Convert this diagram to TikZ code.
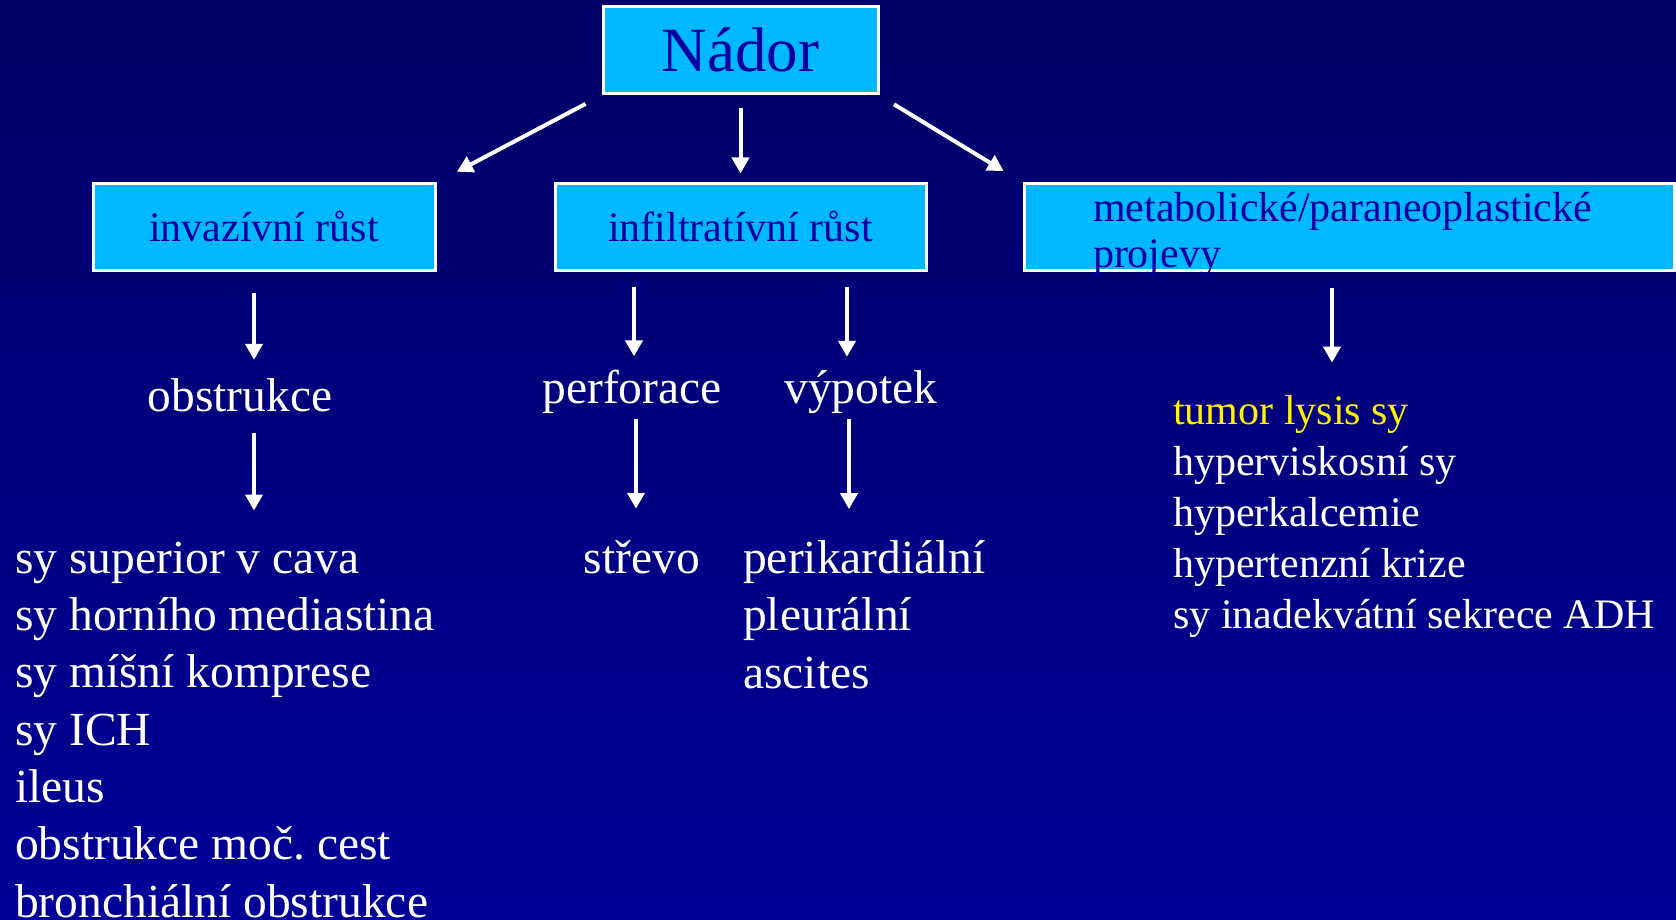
\documentclass[tikz,border=0pt]{standalone}
\usepackage{fontspec}
\setmainfont{Liberation Serif}
\usetikzlibrary{arrows.meta,calc}
\definecolor{bgtop}{RGB}{0,0,102}
\definecolor{bgbot}{RGB}{0,0,153}
\definecolor{boxfill}{RGB}{0,184,255}
\definecolor{boxtext}{RGB}{0,0,160}
\frenchspacing
\begin{document}
\begin{tikzpicture}[x=1pt,y=-1pt,
  box/.style={draw=white,line width=3pt,fill=boxfill,text=boxtext,inner sep=0pt,minimum height=86pt},
  topbox/.style={box,minimum width=275pt,minimum height=87pt,font=\fontsize{63}{70}\selectfont,text height=43pt,text depth=0pt},
  subbox/.style={box,font=\fontsize{42}{46}\selectfont,text height=30pt,text depth=0pt},
  item/.style={text=white,inner sep=0pt,font=\fontsize{47.5}{57.3}\selectfont},
  arr/.style={white,line width=4pt,-{Triangle[width=17pt,length=16pt]}}]
\useasboundingbox (0,0) rectangle (1676,920);
\shade[top color=bgtop,bottom color=bgbot] (0,0) rectangle (1676,920);
% boxes
\node[topbox] (nador) at (740.5,50.5) {Nádor};
\node[subbox,minimum width=342pt] (inv) at (264,227) {invazívní růst};
\node[subbox,minimum width=371pt] (inf) at (740.5,227) {infiltratívní růst};
\node[box,minimum width=650pt,text width=512pt,align=left,font=\fontsize{42}{46}\selectfont,text height=34pt,text depth=45pt] (meta) at (1349,227) {metabolické/paraneoplastické\\projevy};
% texts (multi-line nodes sit on their last baseline)
\node[item,anchor=base] (obs) at (240,411) {obstrukce};
\node[item,anchor=base] (perf) at (632,403) {perforace};
\node[item,anchor=base] (vyp) at (861,403) {výpotek};
\node[item,anchor=base] (strevo) at (642,573) {střevo};
\node[item,anchor=base west,align=left] (peri) at (743,688) {perikardiální\\pleurální\\ascites};
\node[item,anchor=base west,align=left] (list) at (15,917) {sy superior v cava\\sy horního mediastina\\sy míšní komprese\\sy ICH\\ileus\\obstrukce moč. cest\\bronchiální obstrukce};
\node[item,anchor=base west,align=left,font=\fontsize{42}{51}\selectfont] (syn) at (1173,628) {\textcolor{yellow}{tumor lysis sy}\\hyperviskosní sy\\hyperkalcemie\\hypertenzní krize\\sy inadekvátní sekrece ADH};
% arrows
\draw[arr,shorten <=18pt,shorten >=23pt] (nador.south west) -- (inv.north east);
\draw[arr,shorten <=13pt,shorten >=9pt] (nador.south) -- (inf.north);
\draw[arr,shorten <=17pt,shorten >=22pt] (nador.south east) -- (meta.north west);
\draw[arr,shorten <=21pt,shorten >=18pt] ($(inv.south)+(-10,0)$) -- ($(inv.south |- obs.north)+(-10,0)$);
\draw[arr,shorten <=21pt,shorten >=31pt] ($(obs.south)+(14,0)$) -- ($(obs.south |- list.north)+(14,0)$);
\draw[arr,shorten <=15pt,shorten >=13pt] ($(perf.north |- inf.south)+(2,0)$) -- ($(perf.north)+(2,0)$);
\draw[arr,shorten <=15pt,shorten >=13pt] ($(vyp.north |- inf.south)+(-14,0)$) -- ($(vyp.north)+(-14,0)$);
\draw[arr,shorten <=6pt,shorten >=31pt] ($(perf.south)+(4,0)$) -- ($(perf.south |- strevo.north)+(4,0)$);
\draw[arr,shorten <=6pt,shorten >=31pt] ($(vyp.south)+(-12,0)$) -- ($(vyp.south |- peri.north)+(-12,0)$);
\draw[arr,shorten <=16pt,shorten >=32pt] ($(meta.south)+(-17,0)$) -- ($(meta.south |- syn.north)+(-17,0)$);
\end{tikzpicture}
\end{document}
